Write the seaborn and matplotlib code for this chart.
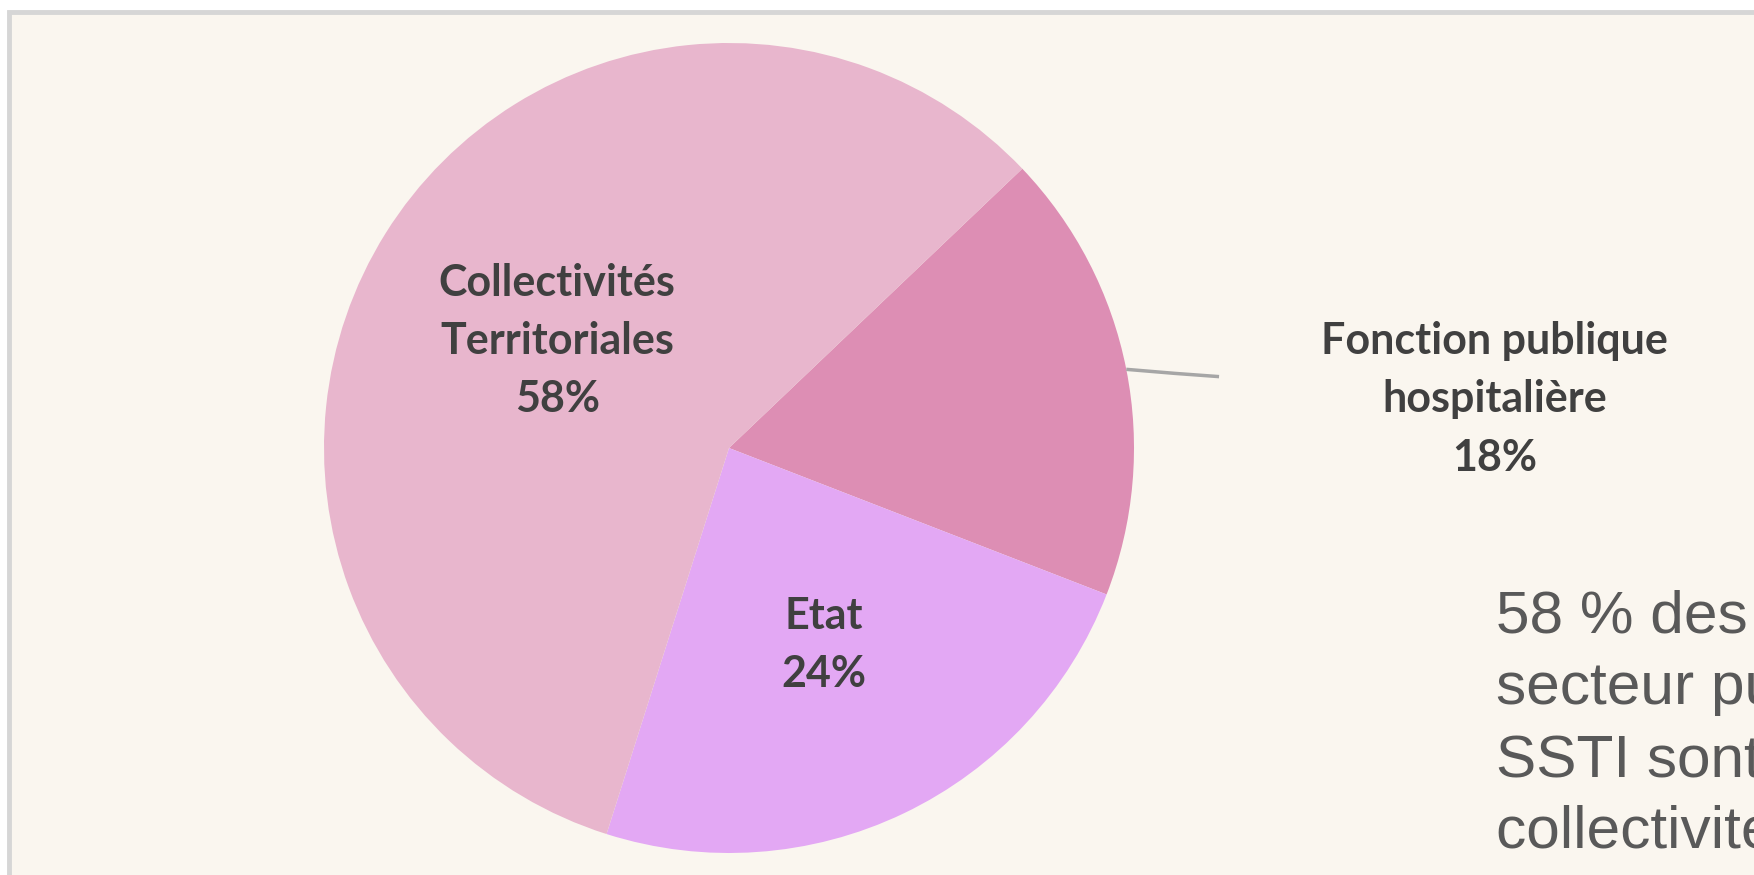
import numpy as np
import matplotlib
matplotlib.use("Agg")
import matplotlib.pyplot as plt
from matplotlib.patches import Rectangle
import seaborn as sns

# slices, clockwise from the upper right
categories = ["Fonction publique\nhospitalière", "Etat", "Collectivités\nTerritoriales"]
shares = [18, 24, 58]
slice_colors = ["#DD8EB4", "#E3A8F4", "#E8B6CD"]
side_note = ["58 % des salariés du", "secteur public suivis par les",
             "SSTI sont issus des", "collectivités territoriales"]

sns.set_theme(style="white")
plt.rcParams["font.family"] = ["Lato", "DejaVu Sans"]

W, H = 1754, 875
fig = plt.figure(figsize=(W / 100, H / 100), dpi=100, facecolor="white")

# cream panel with grey frame on top and left (rest runs off the picture)
panel = Rectangle((9 / W, -0.1), 1.2, (H - 12) / H + 0.1, transform=fig.transFigure,
                  facecolor="#FAF6EF", edgecolor="#D6D6D6", linewidth=3.5, zorder=-5)
fig.patches.append(panel)

ax = fig.add_axes([0, 0, 1, 1], zorder=1)
ax.patch.set_alpha(0)

# pie centre (729, 448) px, radius 405 px
cx, cy, R = 729, 448, 405
wedges, _ = ax.pie(shares, colors=sns.color_palette(slice_colors), startangle=43.6,
                   counterclock=False, radius=1, wedgeprops=dict(linewidth=0))
ax.set_xlim(-cx / R, (W - cx) / R)
ax.set_ylim(-(H - cy) / R, cy / R)
ax.set_aspect("auto")
ax.axis("off")

label_kw = dict(ha="center", va="center", fontsize=31, fontweight="bold",
                color="#404040", linespacing=1.55)

for w, cat, v in zip(wedges, categories, shares):
    mid = np.deg2rad((w.theta1 + w.theta2) / 2)
    text = f"{cat}\n{v}%"
    if v == 18:
        # outside label with leader line
        x0, y0 = np.cos(mid), np.sin(mid)
        ax.plot([x0, x0 + 0.12, 1.21], [y0, y0 - 0.01, y0 - 0.018],
                color="#A6A6A6", lw=2.5, solid_capstyle="butt", clip_on=False)
        ax.text(1.89, 0.12, text, **label_kw)
    else:
        d = 0.5 if v == 58 else 0.54
        ax.text(d * np.cos(mid), d * np.sin(mid), text, **label_kw)

# text box on the right, running off the picture
fig.text(1496 / W, 1 - 848 / H, "\n".join(side_note), ha="left", va="baseline",
         fontsize=43.5, color="#595959", family=["Liberation Sans", "DejaVu Sans"],
         linespacing=1.39, zorder=2)

fig.savefig("out.png", dpi=100)
